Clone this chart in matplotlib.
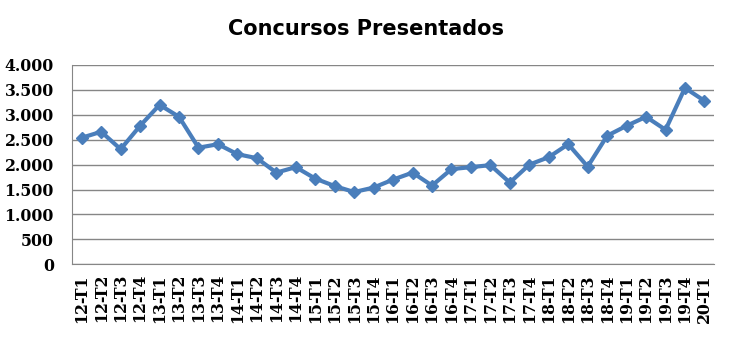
import matplotlib.pyplot as plt

# quarters 2012-T1 .. 2020-T1
labels = ['12-T1', '12-T2', '12-T3', '12-T4', '13-T1', '13-T2', '13-T3', '13-T4',
          '14-T1', '14-T2', '14-T3', '14-T4', '15-T1', '15-T2', '15-T3', '15-T4',
          '16-T1', '16-T2', '16-T3', '16-T4', '17-T1', '17-T2', '17-T3', '17-T4',
          '18-T1', '18-T2', '18-T3', '18-T4', '19-T1', '19-T2', '19-T3', '19-T4',
          '20-T1']
concursos = [2540, 2660, 2310, 2780, 3200, 2960, 2340, 2410,
             2210, 2130, 1840, 1950, 1720, 1570, 1450, 1540,
             1700, 1840, 1580, 1910, 1950, 1990, 1640, 2000,
             2150, 2410, 1960, 2580, 2780, 2960, 2700, 3540,
             3280]
yticks = [0, 500, 1000, 1500, 2000, 2500, 3000, 3500, 4000]

fig = plt.figure(figsize=(7.31, 3.54), dpi=100)
ax = fig.add_axes([0.0985, 0.2534, 0.8785, 0.563])

x = range(len(labels))
ax.plot(x, concursos, color='#4A7EBB', linewidth=3, marker='D', markersize=6.5,
        zorder=3)

ax.set_xlim(-0.5, len(labels) - 0.5)
ax.set_ylim(0, 4000)
ax.set_yticks(yticks)
ax.set_yticklabels([f'{v:,}'.replace(',', '.') for v in yticks],
                   fontfamily='DejaVu Serif', fontweight='bold', fontsize=11.3)
ax.set_xticks(list(x))
ax.set_xticklabels(labels, rotation=90, fontfamily='DejaVu Serif',
                   fontweight='bold', fontsize=11.3)
ax.tick_params(axis='y', length=0, pad=13)
ax.tick_params(axis='x', length=0, pad=7)
ax.yaxis.grid(True, color='#868686', linewidth=1)
ax.set_axisbelow(True)
for s in ['top', 'right']:
    ax.spines[s].set_visible(False)
ax.spines['left'].set_color('#868686')
ax.spines['bottom'].set_color('#868686')

fig.suptitle('Concursos Presentados', x=0.5, y=0.945, fontsize=15,
             fontweight='bold', fontfamily='DejaVu Sans')

fig.savefig('out.png', dpi=100)
